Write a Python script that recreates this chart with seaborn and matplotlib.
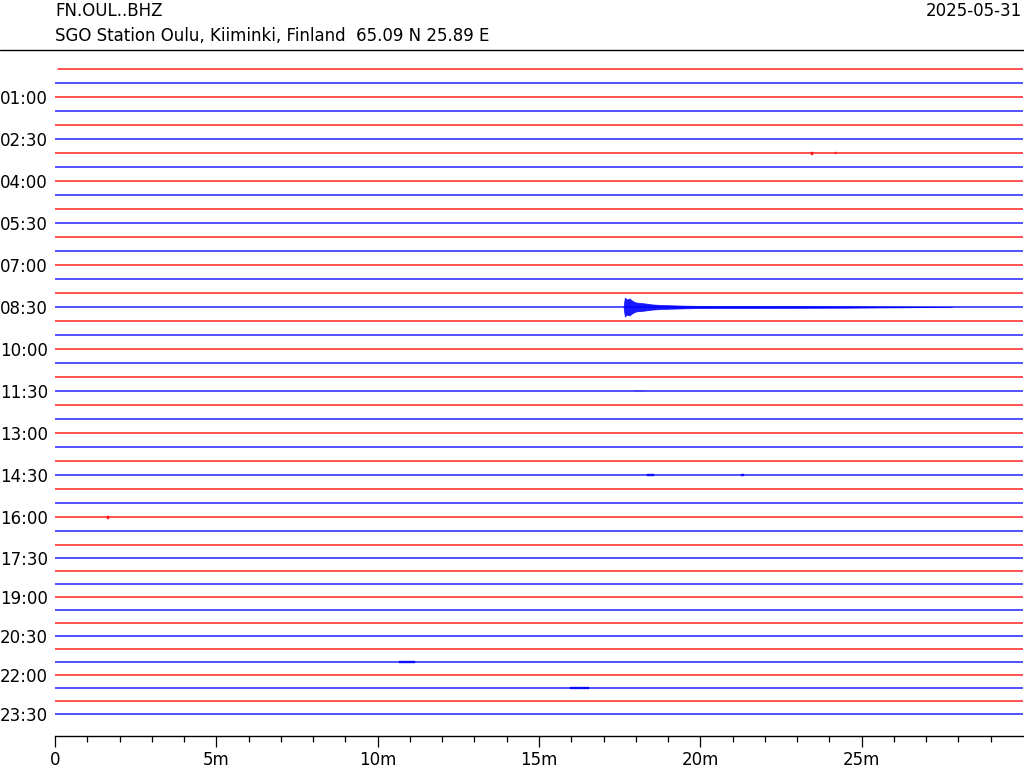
import numpy as np
import pandas as pd
import matplotlib
matplotlib.use("Agg")
import matplotlib.pyplot as plt
from matplotlib.lines import Line2D
import seaborn as sns

station = "FN.OUL..BHZ"
station_info = "SGO Station Oulu, Kiiminki, Finland  65.09 N 25.89 E"
day = "2025-05-31"

# 48 half-hour traces, 00:00 .. 23:30; first trace starts a few seconds late
n_rows = 48
trace_start = [0.1] + [0.0] * (n_rows - 1)

# labels shown on the left (every third trace)
label_rows = [2, 5, 8, 11, 14, 17, 20, 23, 26, 29, 32, 35, 38, 41, 44, 47]
label_text = ["01:00", "02:30", "04:00", "05:30", "07:00", "08:30", "10:00", "11:30",
              "13:00", "14:30", "16:00", "17:30", "19:00", "20:30", "22:00", "23:30"]

xtick_min = [0, 5, 10, 15, 20, 25]
xtick_text = ["0", "5m", "10m", "15m", "20m", "25m"]

# earthquake on the 08:30 trace: envelope (minutes, half amplitude)
quake_row = 17
quake_min = [17.62, 17.66, 17.72, 17.8, 17.9, 18.0, 18.15, 18.3, 18.5, 18.8, 19.2, 19.6, 20.0, 21.0, 22.5, 24.5, 27.8]
quake_amp = [0.0, 9.5, 7.5, 8.5, 6.0, 4.5, 4.0, 3.5, 2.6, 2.0, 1.6, 1.3, 1.1, 1.0, 0.9, 0.7, 0.0]

# small blips on other traces
blip_row = [6, 6, 32, 29, 29, 43, 45, 23]
blip_start = [23.43, 24.18, 1.61, 18.35, 21.25, 10.65, 15.95, 17.95]
blip_end = [23.49, 24.22, 1.67, 18.55, 21.35, 11.15, 16.55, 18.25]
blip_amp = [1.5, 1.0, 1.5, 1.0, 0.7, 0.8, 0.8, 0.4]

sns.set_style("ticks", {"axes.edgecolor": "black", "text.color": "black",
                        "xtick.color": "black", "ytick.color": "black"})
plt.rcParams["font.family"] = ["DejaVu Sans"]

# vertical layout of the traces (the lower rows sit a bit closer together)
gaps = [14] * 34 + [13] * 13
ypos = np.concatenate([[0], np.cumsum(gaps)])
colours = ["red" if i % 2 == 0 else "blue" for i in range(n_rows)]
palette = {"red": "#ff0000", "blue": "#0000ff"}

rows = []
for i in range(n_rows):
    for m in (trace_start[i], 30):
        rows.append({"row": i, "minute": m, "y": ypos[i], "colour": colours[i]})
df = pd.DataFrame(rows)

fig = plt.figure(figsize=(10.24, 7.68), dpi=100)
ax = fig.add_axes([55 / 1024, 32 / 768, 968 / 1024, 686 / 768])

sns.lineplot(data=df, x="minute", y="y", hue="colour", units="row", estimator=None,
             palette=palette, legend=False, linewidth=1.2, alpha=0.8, ax=ax)

q = ypos[quake_row]
qa = np.array(quake_amp)
ax.fill_between(quake_min, q - qa, q + qa, color="#0000ff", linewidth=0.5, alpha=0.9)

for r, s, e, a in zip(blip_row, blip_start, blip_end, blip_amp):
    ax.fill_between([s, e], ypos[r] - a, ypos[r] + a, color=palette[colours[r]],
                    linewidth=0.3, alpha=0.8)

ax.set_xlim(0, 30)
ax.set_ylim(667, -19)
ax.set_xticks(xtick_min)
ax.set_xticklabels(xtick_text, fontsize=12)
ax.set_xticks(np.arange(0, 30, 1), minor=True)
ax.tick_params(axis="x", which="major", length=8, width=0.9, pad=3)
ax.tick_params(axis="x", which="minor", length=4, width=0.9)
ax.set_yticks(ypos[label_rows])
ax.set_yticklabels(label_text, fontsize=12)
ax.tick_params(axis="y", length=0, pad=5)
ax.set_xlabel("")
ax.set_ylabel("")
for side in ["left", "right", "top"]:
    ax.spines[side].set_visible(False)
ax.spines["bottom"].set_linewidth(1.0)

fig.add_artist(Line2D([0, 1], [1 - 50 / 768, 1 - 50 / 768], color="black", linewidth=1.0))
fig.text(55 / 1024, 1 - 16 / 768, station, fontsize=12, va="baseline")
fig.text(55 / 1024, 1 - 41 / 768, station_info, fontsize=12, va="baseline")
fig.text(1022 / 1024, 1 - 16 / 768, day, fontsize=12, va="baseline", ha="right")

fig.savefig("out.png", dpi=100)
